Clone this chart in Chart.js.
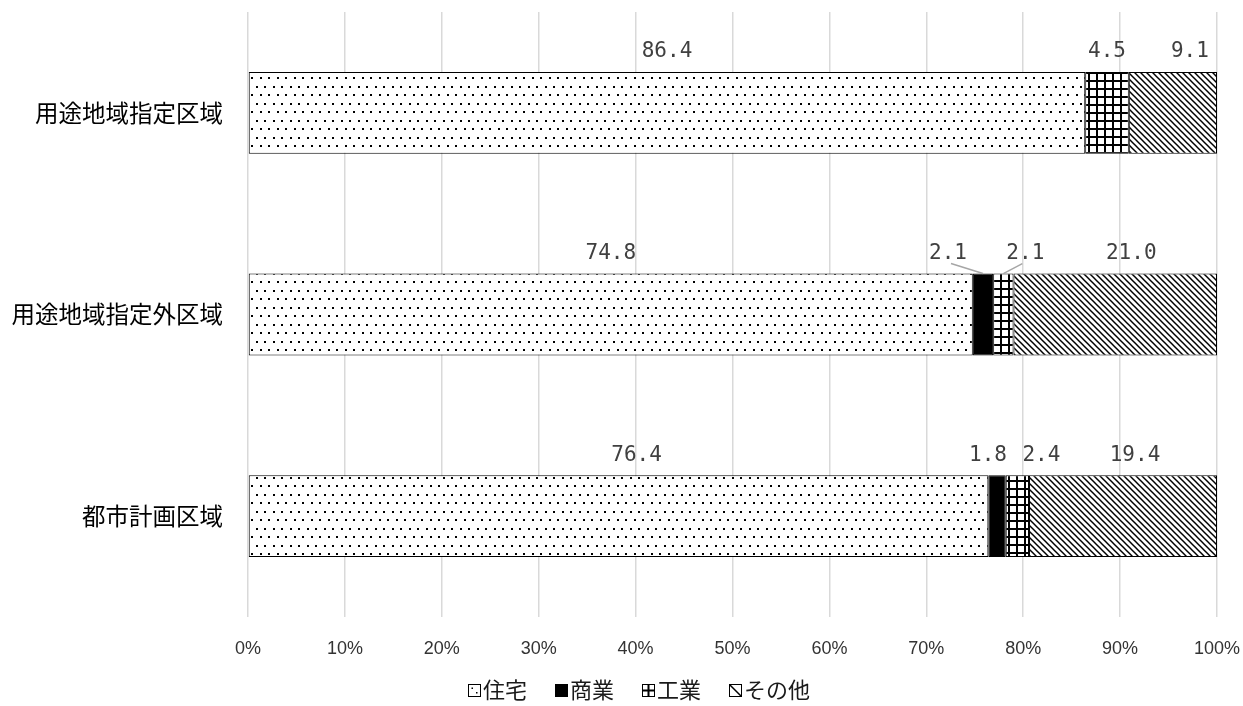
<!DOCTYPE html>
<html>
<head>
<meta charset="utf-8">
<script src="https://cdn.jsdelivr.net/npm/chart.js@4/dist/chart.umd.min.js"></script>
<style>
  html, body { margin: 0; padding: 0; background: #fff; }
  #wrap { width: 1243px; height: 706px; position: relative; }
</style>
</head>
<body>
<div id="wrap"><canvas id="c" width="1243" height="706"></canvas></div>
<script>
// Land-use shares (%) by planning zone
const categories = ['用途地域指定区域', '用途地域指定外区域', '都市計画区域'];
const seriesNames = ['住宅', '商業', '工業', 'その他'];
const housing    = [86.4, 74.8, 76.4];
const commercial = [0.0, 2.1, 1.8];
const industrial = [4.5, 2.1, 2.4];
const other      = [9.1, 21.0, 19.4];
const xTicks = [0, 10, 20, 30, 40, 50, 60, 70, 80, 90, 100];

// Horizontal nudges for value labels (px), by series then category
const labelShift = [
  [0, 0, 18],
  [0, -35, -9],
  [0, 22, 24],
  [17, 16, 12]
];
// Leader lines for shifted labels: [series, category]
const leaders = [[1, 1], [2, 1]];

function makeTile(w, h, draw) {
  const c = document.createElement('canvas');
  c.width = w; c.height = h;
  const g = c.getContext('2d');
  g.fillStyle = '#fff';
  g.fillRect(0, 0, w, h);
  draw(g, w, h);
  return document.getElementById('c').getContext('2d').createPattern(c, 'repeat');
}

const dotFill = makeTile(17, 17, (g) => {
  g.fillStyle = '#000';
  g.fillRect(1, 1, 2, 2);
  g.fillRect(9, 1, 2, 2);
  g.fillRect(5, 9, 2, 2);
  g.fillRect(13, 9, 2, 2);
});
const gridFill = makeTile(8, 8, (g) => {
  g.fillStyle = '#000';
  g.fillRect(0, 0, 8, 2);
  g.fillRect(0, 0, 2, 8);
});
const diagFill = makeTile(6, 6, (g, w) => {
  g.strokeStyle = '#000';
  g.lineWidth = 1.5;
  for (let k = -1; k <= 1; k++) {
    g.beginPath();
    g.moveTo(-w, -w + k * w);
    g.lineTo(2 * w, 2 * w + k * w);
    g.stroke();
  }
});

const fills = [dotFill, '#000000', gridFill, diagFill];
const values = [housing, commercial, industrial, other];

const labelFont = '21px "DejaVu Sans Mono", monospace';
const jpFont = '"Noto Sans CJK JP", "Noto Sans", sans-serif';

const valueLabels = {
  id: 'valueLabels',
  afterDatasetsDraw(chart) {
    const ctx = chart.ctx;
    ctx.save();
    ctx.font = labelFont;
    ctx.fillStyle = '#404040';
    ctx.textAlign = 'center';
    ctx.textBaseline = 'middle';
    chart.data.datasets.forEach((ds, i) => {
      const meta = chart.getDatasetMeta(i);
      meta.data.forEach((bar, j) => {
        const v = ds.data[j];
        if (!v) return;
        const cx = (bar.x + bar.base) / 2;
        const top = bar.y - bar.height / 2;
        ctx.fillText(v.toFixed(1), cx + labelShift[i][j], top - 20);
      });
    });
    // leader lines
    ctx.strokeStyle = '#a6a6a6';
    ctx.lineWidth = 1.5;
    leaders.forEach(([i, j]) => {
      const bar = chart.getDatasetMeta(i).data[j];
      const cx = (bar.x + bar.base) / 2;
      const top = bar.y - bar.height / 2;
      const lx = cx + labelShift[i][j];
      ctx.beginPath();
      ctx.moveTo(lx + (labelShift[i][j] < 0 ? 3 : -3), top - 10);
      ctx.lineTo(cx, top);
      ctx.stroke();
    });
    ctx.restore();
  }
};

const bottomLegend = {
  id: 'bottomLegend',
  afterDraw(chart) {
    const ctx = chart.ctx;
    ctx.save();
    ctx.font = '22px ' + jpFont;
    const box = 12, gapText = 3, gapItem = 28;
    const widths = seriesNames.map(n => box + gapText + ctx.measureText(n).width);
    const total = widths.reduce((a, b) => a + b, 0) + gapItem * (seriesNames.length - 1);
    let x = 639 - total / 2;
    const yc = 690;
    seriesNames.forEach((name, i) => {
      const bx = Math.round(x) + 0.5, by = Math.round(yc - box / 2) + 0.5;
      ctx.fillStyle = '#fff';
      ctx.fillRect(bx, by, box, box);
      ctx.fillStyle = '#000';
      ctx.strokeStyle = '#000';
      ctx.lineWidth = 1;
      if (i === 0) {
        ctx.fillRect(bx + 3, by + 3, 1.5, 1.5);
        ctx.fillRect(bx + 7.5, by + 7.5, 1.5, 1.5);
      } else if (i === 1) {
        ctx.fillRect(bx, by, box, box);
      } else if (i === 2) {
        ctx.lineWidth = 2;
        ctx.beginPath();
        ctx.moveTo(bx + box / 2, by); ctx.lineTo(bx + box / 2, by + box);
        ctx.moveTo(bx, by + box / 2); ctx.lineTo(bx + box, by + box / 2);
        ctx.stroke();
        ctx.lineWidth = 1;
      } else {
        ctx.lineWidth = 1.5;
        ctx.beginPath();
        ctx.moveTo(bx, by); ctx.lineTo(bx + box, by + box);
        ctx.stroke();
        ctx.lineWidth = 1;
      }
      ctx.strokeRect(bx, by, box, box);
      ctx.fillStyle = '#1a1a1a';
      ctx.textAlign = 'left';
      ctx.textBaseline = 'middle';
      ctx.fillText(name, x + box + gapText, yc);
      x += widths[i] + gapItem;
    });
    ctx.restore();
  }
};

new Chart(document.getElementById('c'), {
  type: 'bar',
  data: {
    labels: categories,
    datasets: seriesNames.map((name, i) => ({
      label: name,
      data: values[i],
      backgroundColor: fills[i],
      borderColor: '#000',
      borderWidth: 1,
      borderSkipped: false,
      categoryPercentage: 1,
      barPercentage: 0.406
    }))
  },
  options: {
    indexAxis: 'y',
    responsive: false,
    animation: false,
    devicePixelRatio: 1,
    layout: { padding: { top: 12, right: 26, left: 0, bottom: 0 } },
    plugins: {
      legend: { display: false },
      tooltip: { enabled: false }
    },
    scales: {
      x: {
        stacked: true,
        min: 0,
        max: 100,
        afterBuildTicks(scale) { scale.ticks = xTicks.map(v => ({ value: v })); },
        afterFit(scale) {
          scale.height = 89;
          scale.paddingLeft = 0;
          scale.paddingRight = 0;
        },
        grid: { color: '#d9d9d9', lineWidth: 1.5, drawTicks: false },
        border: { display: false },
        ticks: {
          padding: 21,
          color: '#333',
          font: { family: '"Liberation Sans Narrow", "Liberation Sans", Arial, sans-serif', size: 18 },
          callback: v => v + '%'
        }
      },
      y: {
        stacked: true,
        afterFit(scale) {
          scale.width = 248;
          scale.paddingTop = 0;
          scale.paddingBottom = 0;
        },
        grid: { display: false },
        border: { display: false },
        ticks: {
          padding: 17,
          color: '#000',
          font: { family: jpFont, size: 23.5 }
        }
      }
    }
  },
  plugins: [valueLabels, bottomLegend]
});
</script>
</body>
</html>
